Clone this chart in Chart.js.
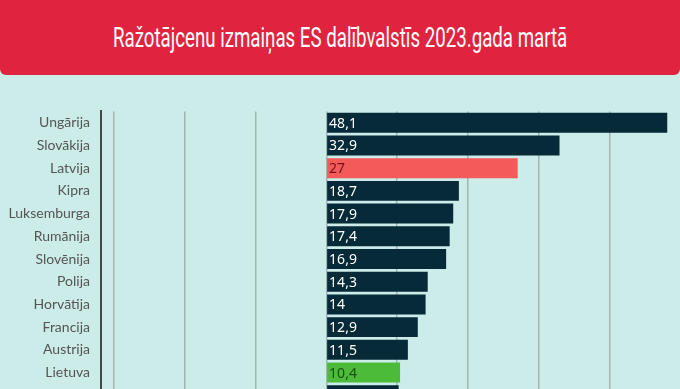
<!DOCTYPE html>
<html>
<head>
<meta charset="utf-8">
<script src="https://cdn.jsdelivr.net/npm/chart.js@4"></script>
<style>
  html, body { margin: 0; padding: 0; width: 680px; height: 389px; overflow: hidden; background: #cbece8; }
  #head {
    position: absolute; left: 0; top: 0; width: 680px; height: 75px;
    background: #e0243f; border-radius: 0 0 6px 6px;
  }
  #title {
    position: absolute; left: 113px; top: 22px; white-space: nowrap;
    font-family: "Liberation Sans Narrow", "Roboto", sans-serif; font-size: 27px;
    color: #fff; transform-origin: 0 0;
  }
  #wrap { position: absolute; left: 0; top: 92px; width: 680px; height: 334px; }
</style>
</head>
<body>
<div id="head"><span id="title">Ražotājcenu izmaiņas ES dalībvalstīs 2023.gada martā</span></div>
<div id="wrap"><canvas id="chart1"></canvas></div>
<script>
// data (last row is cut off at the bottom edge)
const countries = ['Ungārija', 'Slovākija', 'Latvija', 'Kipra', 'Luksemburga', 'Rumānija',
    'Slovēnija', 'Polija', 'Horvātija', 'Francija', 'Austrija', 'Lietuva', ''];
const changes = [48.1, 32.9, 27, 18.7, 17.9, 17.4, 16.9, 14.3, 14, 12.9, 11.5, 10.4, 10.2];
const highlight = { 'Latvija': '#f35a5a', 'Lietuva': '#4cbb3a' };
const labelColors = { 'Latvija': '#7a0f12', 'Lietuva': '#1c4f12' };

// squeeze title to the narrow width of the original
const t = document.getElementById('title');
t.style.transform = 'scaleX(' + (454 / t.offsetWidth) + ')';

const valueLabels = {
    id: 'valueLabels',
    afterDatasetsDraw(chart) {
        const ctx = chart.ctx;
        const meta = chart.getDatasetMeta(0);
        ctx.save();
        ctx.font = '14px "Noto Sans", sans-serif';
        ctx.textBaseline = 'middle';
        ctx.textAlign = 'left';
        meta.data.forEach((bar, i) => {
            ctx.fillStyle = labelColors[countries[i]] || '#ffffff';
            ctx.fillText(String(changes[i]).replace('.', ','), bar.base + 2, bar.y + 1);
        });
        ctx.restore();
    }
};

new Chart(document.getElementById('chart1'), {
    type: 'bar',
    data: {
        labels: countries,
        datasets: [{
            data: changes,
            backgroundColor: countries.map(c => highlight[c] || '#062a38'),
            barPercentage: 0.88,
            categoryPercentage: 1,
        }],
    },
    options: {
        indexAxis: 'y',
        responsive: true,
        maintainAspectRatio: false,
        animation: false,
        layout: { padding: { top: 10, right: 0, bottom: 0, left: 0 } },
        plugins: { legend: { display: false }, tooltip: { enabled: false } },
        scales: {
            x: {
                min: -31.8,
                max: 49.9,
                ticks: { display: false, stepSize: 10, includeBounds: false },
                grid: { color: '#9fb6b3', lineWidth: 1.5, drawTicks: false },
                border: { display: false },
            },
            y: {
                afterFit: s => { s.width = 101; },
                ticks: { color: '#555', padding: 11, font: { family: 'Lato', size: 14 } },
                grid: { display: false, drawTicks: false },
                border: { display: true, color: '#3f4b4b', width: 2 },
            },
        },
    },
    plugins: [valueLabels],
});
</script>
</body>
</html>
